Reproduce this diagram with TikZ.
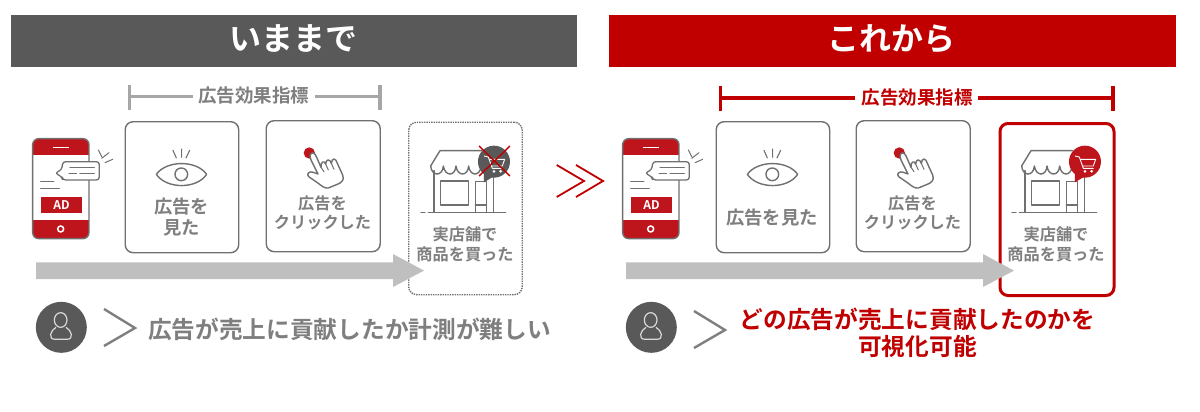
\documentclass[tikz,border=0pt]{standalone}
\usepackage{fontspec}
\setmainfont{Noto Sans CJK JP}[BoldFont={Noto Sans CJK JP Bold}]
\definecolor{hdgray}{HTML}{595959}
\definecolor{txgray}{HTML}{7F7F7F}
\definecolor{icgray}{HTML}{707070}
\definecolor{brgray}{HTML}{A6A6A6}
\definecolor{argray}{HTML}{BFBFBF}
\definecolor{dred}{HTML}{C00000}
\definecolor{ired}{HTML}{BE141C}
\tikzset{
  header/.style={minimum height=52pt,inner sep=0pt,anchor=north west},
  headtext/.style={text=white,font=\bfseries\fontsize{32}{32}\selectfont,inner sep=0pt},
  stepcard/.style={draw=icgray,line width=1.4pt,rounded corners=8pt,fill=white,inner sep=0pt,anchor=north west},
  steptext/.style={text=txgray,font=\bfseries\fontsize{16.2}{19.5}\selectfont,align=center,inner sep=0pt},
  steptextb/.style={text=txgray,font=\bfseries\fontsize{18.3}{21}\selectfont,align=center,inner sep=0pt},
  brlabel/.style={font=\bfseries\fontsize{18.5}{18.5}\selectfont,inner sep=0pt},
  msg/.style={font=\bfseries\fontsize{23.7}{27}\selectfont,align=center,inner sep=0pt},
  icon/.style={draw=icgray,line width=1.4pt,line join=round,line cap=round},
  flowarrow/.style={fill=argray,draw=none},
  zoomA/.style={shift={(0,80)},x=0.3333pt,y=-0.3333pt},
  zoomB/.style={shift={(260,80)},x=0.3333pt,y=-0.3333pt},
  zoomC/.style={shift={(20,290)},x=0.3333pt,y=-0.3333pt},
}
\newcommand{\phoneicon}[1]{%
\begin{scope}[shift={(#1,0)},zoomA]
  \fill[white,rounded corners=6pt] (98,176) rectangle (267,476);
  \begin{scope}
    \clip[rounded corners=6pt] (98,176) rectangle (267,476);
    \fill[ired] (98,176) rectangle (267,225);
    \fill[ired] (98,420) rectangle (267,476);
  \end{scope}
  \draw[icon,rounded corners=6pt] (98,176) rectangle (267,476);
  \draw[white,line width=1.2pt] (158,202) -- (208,202);
  \draw[white,line width=1.5pt] (182,447) circle[radius=9];
  \fill[ired] (124,350) rectangle (245,398);
  \node[text=white,font=\bfseries\fontsize{12}{12}\selectfont,inner sep=0pt] at (184.5,375) {AD};
  \draw[icon,line width=1pt] (122,306) -- (162,306) (122,327) -- (178,327);
  \draw[icon,fill=white,line width=1.3pt,rounded corners=3pt] (188,245) -- (298,245) -- (298,300) -- (188,300) -- (186,290) -- (165,280) -- (186,268) -- cycle;
  \draw[icon,line width=1pt] (210,262) -- (283,262) (207,282) -- (230,282) (240,282) -- (283,282);
  \draw[icon,line width=1pt] (295,210) -- (305,230) (305,235) -- (327,218) (315,248) -- (338,238);
\end{scope}}
\newcommand{\eyeicon}[1]{%
\begin{scope}[shift={(#1,0)},zoomA]
  \draw[icon,fill=white] (469,283) .. controls (500,240) and (590,240) .. (620,283) .. controls (590,328) and (500,328) .. (469,283) -- cycle;
  \draw[icon] (544,283) circle[radius=19];
  \draw[icon,line width=1.1pt] (519,211) -- (529,234) (545,207) -- (545,232) (569,211) -- (558,234);
\end{scope}}
\newcommand{\handicon}[1]{%
\begin{scope}[shift={(#1,0)},zoomB]
  \fill[ired] (148,219) circle[radius=17];
  \draw[icon,fill=white] (152,222) .. controls (160,214) and (166,222) .. (170,232) -- (183,262) .. controls (182,245) and (192,240) .. (197,252) .. controls (198,236) and (210,236) .. (214,250) .. controls (216,232) and (228,234) .. (232,250) -- (248,285) .. controls (254,300) and (245,308) .. (232,313) -- (205,324) .. controls (195,326) and (185,318) .. (175,310) -- (146,290) .. controls (138,282) and (148,272) .. (160,277) -- (174,282) -- (153,240) .. controls (150,232) and (149,226) .. (152,222) -- cycle;
  \draw[icon,line width=1pt] (183,262) -- (192,275) (197,252) -- (205,270) (214,250) -- (222,268);
\end{scope}}
\newcommand{\shopicon}[1]{%
\begin{scope}[shift={(#1,0)},zoomB]
  \draw[icon] (540,212) -- (665,212) (540,212) -- (512,258);
  \draw[icon] (512,258) .. controls (515,290) and (548,290) .. (550,258) .. controls (555,290) and (586,290) .. (588,258) .. controls (592,290) and (624,290) .. (626,258) .. controls (630,290) and (660,290) .. (664,258);
  \draw[icon] (522,272) -- (522,397) (700,280) -- (700,397);
  \draw[icon] (542,303) rectangle (625,375);
  \draw[icon] (646,397) -- (646,305) -- (680,305) -- (680,397) (646,375) -- (680,375);
  \draw[icon] (505,397) -- (737,397) (483,397) -- (495,397);
\end{scope}}
\newcommand{\carticon}[2]{%
\begin{scope}[shift={(#1,0)},zoomB]
  \fill[#2] (702,245) circle[radius=48];
  \fill[#2] (672,280) -- (700,290) -- (672,307) -- cycle;
  \draw[white,line width=0.9pt,line join=round] (672,228) -- (685,231) -- (697,265) -- (728,265) (688,238) -- (734,238) -- (727,258) -- (694,258);
  \fill[white] (702,274) circle[radius=4.5] (722,274) circle[radius=4.5];
\end{scope}}
\newcommand{\personicon}[1]{%
\begin{scope}[shift={(#1,0)},zoomC]
  \fill[hdgray] (124,112) circle[radius=76.5];
  \draw[draw=black!15,line width=1.2pt] (122,90) ellipse[x radius=19,y radius=22];
  \draw[draw=black!15,line width=1.2pt] (108,112) .. controls (92,120) and (82,148) .. (106,148) -- (140,148) .. controls (164,148) and (154,120) .. (138,112);
\end{scope}}
\begin{document}
\begin{tikzpicture}[x=1pt,y=-1pt]
\useasboundingbox (0,0) rectangle (1200,412);
% headers
\node[header,fill=hdgray,minimum width=566pt] (hl) at (11,15) {};
\node[headtext] (hlt) at (293.5,38.5) {いままで};
\node[header,fill=dred,minimum width=567pt] (hr) at (609,15) {};
\node[headtext] (hrt) at (891.5,38.5) {これから};
% brackets
\node[brlabel,text=txgray] (bl) at (253.5,95) {広告効果指標};
\coordinate (bla) at (129.5,96.5);
\coordinate (blb) at (380,96.5);
\draw[brgray,line width=3.5pt] (bl.west) ++(-5,1.5) -- (bla);
\draw[brgray,line width=3.5pt] (bl.east) ++(6,1.5) -- (blb);
\draw[brgray,line width=3.5pt] (129.5,85) -- (129.5,110) (380,85) -- (380,110);
\node[brlabel,text=dred] (br) at (917,97) {広告効果指標};
\coordinate (bra) at (720.5,98);
\coordinate (brb) at (1113,98);
\draw[dred,line width=3.2pt] (br.west) ++(-6,1) -- (bra);
\draw[dred,line width=3.2pt] (br.east) ++(5,1) -- (brb);
\draw[dred,line width=3.2pt] (720.5,86) -- (720.5,111) (1113,86) -- (1113,111);
% left cards
\node[stepcard,minimum width=113.5pt,minimum height=131pt] (l1) at (124.5,121) {};
\node[stepcard,minimum width=114pt,minimum height=131pt] (l2) at (265.5,120) {};
\node[stepcard,densely dotted,minimum width=113.5pt,minimum height=172.5pt] (l3) at (408,121.5) {};
% right cards
\node[stepcard,minimum width=113.5pt,minimum height=131pt] (r1) at (715.5,121) {};
\node[stepcard,minimum width=114pt,minimum height=131pt] (r2) at (855.5,120) {};
\node[stepcard,draw=dred,line width=3pt,minimum width=114pt,minimum height=172pt] (r3) at (998.5,122) {};
% flow arrows
\fill[flowarrow] (36,262.3) -- (393,262.3) -- (393,254) -- (424,270.6) -- (393,287) -- (393,279) -- (36,279) -- cycle;
\fill[flowarrow] (626,262.3) -- (983,262.3) -- (983,254) -- (1014,270.6) -- (983,287) -- (983,279) -- (626,279) -- cycle;
% icons
\phoneicon{0}\phoneicon{590}
\eyeicon{0}\eyeicon{591}
\handicon{0}\handicon{590}
\shopicon{0}\shopicon{591}
\carticon{0}{hdgray}\carticon{591}{ired}
\draw[dred,line width=1.4pt] (479,146) -- (510,176) (510,146) -- (479,176);
% step texts
\node[steptextb] (tl1) at (181.5,217.5) {広告を\\見た};
\node[steptext] (tl2) at (322.5,213) {広告を\\クリックした};
\node[steptext] (tl3) at (465,244.5) {実店舗で\\商品を買った};
\node[steptextb] (tr1) at (772,218) {広告を見た};
\node[steptext] (tr2) at (912.5,213) {広告を\\クリックした};
\node[steptext] (tr3) at (1056,244.5) {実店舗で\\商品を買った};
% double chevron
\draw[dred,line width=1.8pt,line join=miter] (556.7,165) -- (584,181) -- (556.7,197) (576,165) -- (603,181) -- (576,197);
% persons
\personicon{0}\personicon{590}
\draw[txgray,line width=2.4pt] (104,309) -- (135,328) -- (104,346);
\draw[txgray,line width=2.4pt] (694,311) -- (725,330) -- (694,348);
% messages
\node[msg,text=txgray] (ml) at (349.5,329) {広告が売上に貢献したか計測が難しい};
\node[msg,text=dred] (mr) at (917.5,332.5) {どの広告が売上に貢献したのかを\\可視化可能};
\end{tikzpicture}
\end{document}
